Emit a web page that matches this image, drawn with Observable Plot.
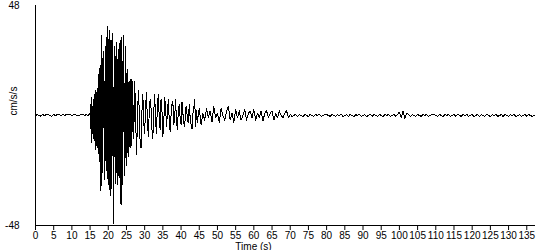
<!DOCTYPE html>
<html><head><meta charset="utf-8">
<script src="https://cdn.jsdelivr.net/npm/d3@7"></script>
<script src="https://cdn.jsdelivr.net/npm/@observablehq/plot@0.6"></script>
<style>body{margin:0;background:#fff}</style>
</head><body><div id="chart"></div>
<script>
// Pre-event noise, 0–15 s, every 0.5 s (cm/s/s)
const preEventStart = 0, preEventStep = 0.5;
const preEvent = [0, 0.4, 0, -0.3, 0.4, 0, 0.4, 0.4, 0, -0.3, 0.4, 0, 0.4, 0.4, 0, 0.4, 0, 0.4, 0.4, 0.4, 0, 0.4, 0.4, 0, 0, 0.4, 0.4, 0, 0.4, 0];

// Strong motion, 15–27 s, every 0.125 s
const strongStart = 15, strongStep = 0.125;
const strong = [
  1, 5, -6, 8, -12, 4, -8, 7,
  -10, 6, 9, -15, 11, -7, 10, -13,
  12, -14, 18, -11, -20, 15, 22, -18,
  -33, 35, -22, 25, -25, 20, 28, -24,
  -28, 24, 30, -20, -24, 33, 39, -26,
  -30, 28, 37, -22, -35, 25, 33, -28,
  -32, 29, 36, -25, -47, 22, 30, -30,
  -28, 26, 32, -24, -30, 22, 29, -26,
  -27, 25, 33, -30, -39, 28, 34, -24,
  -30, 26, 35, -22, -26, 24, 30, -20,
  -22, 18, 20, -15, -18, 14, 15, -13,
  -14, 12, 16, -10, -13, 15, 12, -9
];

// Decay, 27–45 s, every 0.25 s
const decayStart = 27, decayStep = 0.25;
const decay = [
  -10, 15, 2, -17,
  -4, 11, 3, -12,
  -14, 2, 9, -3,
  -8, 4, 10, -2,
  -9, 1, 7, 3,
  -6, -10, 2, 9,
  -2, -8, 5, 9,
  -1, -6, 7, 2,
  -9, -3, 8, 4,
  -5, 1, 7, -2,
  -7, 0, 5, 6,
  -4, -1, 7, -3,
  -6, 2, 5, -1,
  -4, 6, 1, -3,
  -5, 3, 4, -2,
  -3, 5, -1, -4,
  -6, 1, 3, 7,
  -5, 2, -3, 1
];

// Coda, 45–137 s, every 0.5 s
const codaStart = 45, codaStep = 0.5;
const coda = [
  3, -4, 1, -2, 3, -1, 2, -3, 4, -1, 1, -3, 3, 0, -2, 2, 4, -2, 1, -3,
  2.5, -1, 2, -2, 0, 2.5, -2, 1, 2, -1, 2.5, -2, 1, -1, 2, -2.5, 1, 2, -1, 1,
  2, -2, 1, -1, 2, 0, -1, 1, 2, -1,
  0.5, -0.4, 0, 0.5, -0.4, 0.4, 0, -0.5, 0.4, 0, -0.4, 0.5, 0, -0.4, 0.4, 0, 0.5, -0.4, 0, 0.4,
  0.4, 0, -0.4, 0.5, 0, -0.4, 0.4, 0, 0.5, -0.4, 0, 0.4, -0.4, 0.5, 0, -0.4, 0.4, 0, 0.5, -0.4,
  0, 0.4, -0.4, 0, 0.5, -0.4, 0.4, 0, -0.4, 0.5, 0, -0.4, 0.4, 0, 0.5, -0.4, 0, 0.4, -0.4, 0.5,
  1.5, -1, 1.8, -1.2, 1, 0.6,
  -0.4, 0.4, 0, -0.4, 0.5, 0, -0.4, 0.4, 0, 0.5, -0.4, 0, 0.4, 0.4, 0, -0.4, 0.5, 0, -0.4, 0.4,
  0, 0.5, -0.4, 0, 0.4, -0.4, 0.5, 0, -0.4, 0.4, 0, 0.5, -0.4, 0, 0.4, -0.4, 0, 0.5, -0.4, 0.4,
  0, -0.4, 0.5, 0, -0.4, 0.4, 0, 0.5, -0.4, 0, 0.4, -0.4, 0.5, 0, -0.4, 0.4, 0, 0.5, -0.4, 0,
  0.4, -0.4, 0, 0.5, -0.4, 0.4, 0, -0.4, 0
];

const xTicks = [0,5,10,15,20,25,30,35,40,45,50,55,60,65,70,75,80,85,90,95,100,105,110,115,120,125,130,135];
const yTicks = [-48, 48];
const xLabel = "Time (s)";
const yLabel = "cm/s/s";

const rows = [];
preEvent.forEach((v, i) => rows.push({t: preEventStart + i * preEventStep, v}));
strong.forEach((v, i) => rows.push({t: strongStart + i * strongStep, v}));
decay.forEach((v, i) => rows.push({t: decayStart + i * decayStep, v}));
coda.forEach((v, i) => rows.push({t: codaStart + i * codaStep, v}));

const chart = Plot.plot({
  width: 550,
  height: 250,
  marginLeft: 35,
  marginRight: 15,
  marginTop: 5,
  marginBottom: 25,
  style: {fontFamily: "'Liberation Sans', Arial, sans-serif", fontSize: "10px", background: "#fff", color: "#000"},
  x: {domain: [0, 137.4]},
  y: {domain: [-48, 48]},
  marks: [
    Plot.line(rows, {x: "t", y: "v", stroke: "#000", strokeWidth: 1, shapeRendering: "crispEdges"}),
    Plot.ruleX([0], {stroke: "#000", shapeRendering: "crispEdges"}),
    Plot.ruleY([-48], {stroke: "#000", shapeRendering: "crispEdges"}),
    Plot.axisX({ticks: xTicks, tickSize: 5, tickPadding: 1, label: null, tickFormat: d => String(d), stroke: "#000"}),
    Plot.axisY({ticks: yTicks, tickSize: 0, tickPadding: 16, label: null, tickFormat: d => String(d)}),
    Plot.text([xLabel], {frameAnchor: "bottom", dy: 24, dx: -32, fill: "#000"}),
    Plot.text([yLabel], {frameAnchor: "left", rotate: -90, dx: -22, fill: "#000"})
  ]
});
document.getElementById("chart").appendChild(chart);
</script>
</body></html>
